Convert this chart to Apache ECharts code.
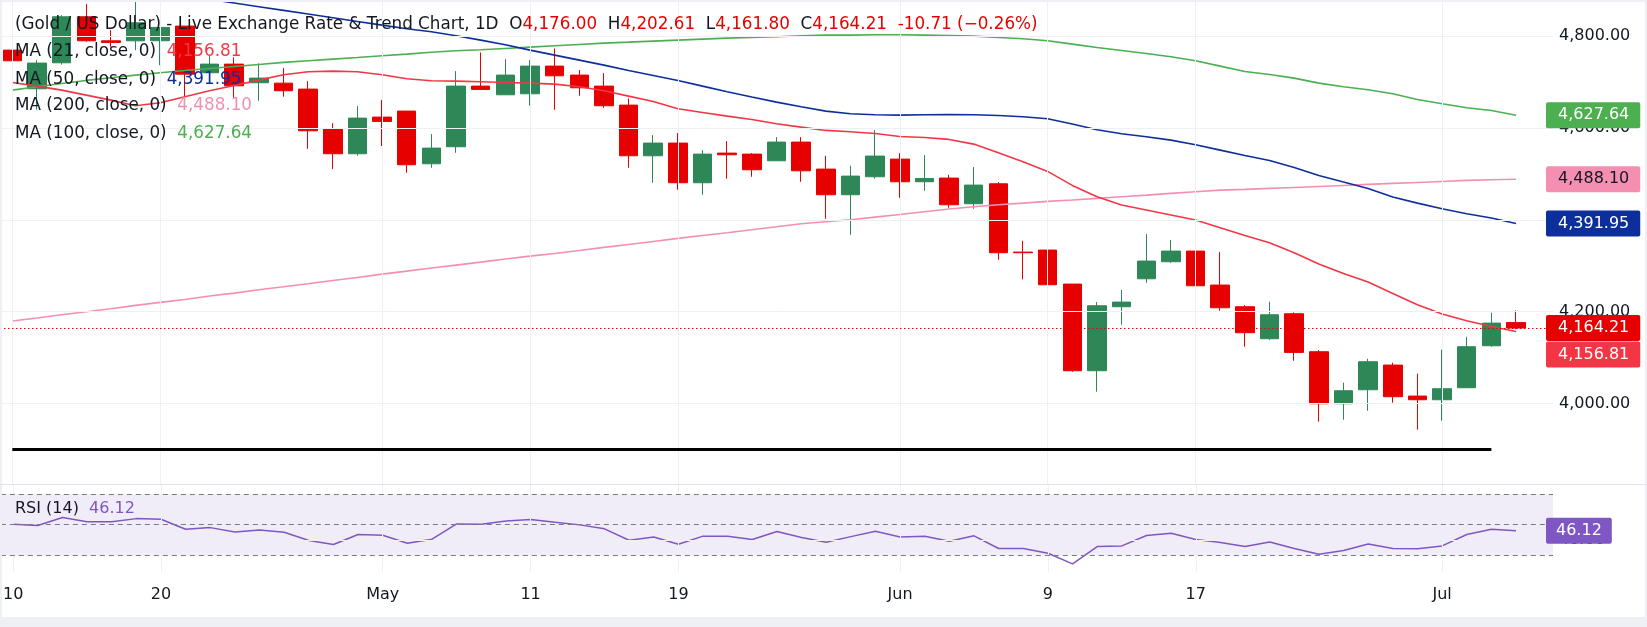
<!DOCTYPE html>
<html><head><meta charset="utf-8">
<script src="https://cdn.jsdelivr.net/npm/echarts@6/dist/echarts.min.js"></script>
<style>html,body{margin:0;padding:0;background:#fff;overflow:hidden}#c{width:1647px;height:627px}</style>
</head><body><div id="c"></div>
<script>
const dates = ['04-10','04-13','04-14','04-15','04-16','04-17','04-20','04-21','04-22','04-23','04-24','04-27','04-28','04-29','04-30',
 '05-01','05-04','05-05','05-06','05-07','05-08','05-11','05-12','05-13','05-14','05-15','05-18','05-19','05-20','05-21','05-22','05-25','05-26','05-27','05-28','05-29',
 '06-01','06-02','06-03','06-04','06-05','06-08','06-09','06-10','06-11','06-12','06-15','06-16','06-17','06-18','06-19','06-22','06-23','06-24','06-25','06-26','06-29','06-30',
 '07-01','07-02','07-03','07-06'];
const open  = [4769.5,4685.3,4741.9,4842.1,4789.8,4789.8,4790.0,4821.8,4720.2,4739.0,4698.4,4697.6,4684.6,4597.5,4543.8,4623.6,4636.7,4522.0,4559.0,4691.1,
 4672.2,4674.4,4734.7,4715.1,4691.1,4649.7,4539.4,4567.0,4480.6,4545.2,4543.0,4528.5,4569.2,4510.4,4454.5,4493.7,4532.1,4482.8,4490.8,4434.9,
 4478.4,4329.6,4334.0,4259.9,4071.2,4210.6,4271.5,4308.6,4331.8,4257.8,4210.6,4140.9,4195.3,4112.6,3999.3,4029.8,4083.5,4016.0,4008.0,4034.2,4125.6,4176.00];
const high  = [4794.9,4747.7,4845.7,4869.7,4813.0,4880.0,4819.0,4822.0,4758.6,4753.5,4740.5,4730.3,4702.0,4610.5,4647.6,4660.6,4637.0,4586.6,4723.8,4764.4,
 4749.9,4747.7,4773.1,4726.0,4719.4,4664.3,4584.4,4588.8,4551.7,4571.3,4545.2,4580.0,4580.0,4539.4,4517.6,4595.3,4545.2,4540.9,4498.0,4514.7,
 4482.1,4354.3,4364.5,4260.0,4220.7,4246.9,4368.8,4355.8,4381.9,4329.6,4214.2,4221.5,4198.2,4116.2,4045.1,4097.3,4088.6,4064.7,4116.9,4145.2,4197.5,4202.61];
const low   = [4731.0,4640.0,4738.0,4787.7,4776.8,4769.5,4736.8,4667.9,4718.0,4665.7,4659.2,4668.0,4554.6,4510.4,4539.4,4560.5,4502.4,4513.3,4545.9,4683.5,
 4671.8,4648.3,4639.6,4670.1,4643.9,4513.3,4480.6,4465.4,4454.5,4489.3,4493.7,4528.0,4482.8,4402.2,4367.4,4489.3,4447.9,4463.2,4426.2,4424.0,
 4312.9,4270.1,4238.9,4069.0,4025.5,4171.4,4262.8,4306.4,4221.5,4201.9,4123.5,4138.7,4093.0,3960.1,3964.5,3984.1,4001.5,3942.7,3962.3,4034.0,4123.5,4161.80];
const close = [4746.3,4741.2,4842.1,4789.8,4786.2,4829.0,4818.9,4717.2,4739.0,4691.8,4708.5,4681.0,4593.8,4543.8,4621.4,4614.2,4519.8,4556.1,4691.1,4683.9,
 4715.1,4734.7,4713.6,4687.5,4648.3,4539.4,4567.0,4480.6,4543.0,4541.6,4508.9,4569.2,4506.7,4454.5,4495.1,4538.7,4482.8,4490.0,4432.7,4475.5,
 4328.2,4328.2,4258.5,4071.2,4212.7,4220.7,4310.0,4331.8,4256.3,4208.4,4154.0,4193.1,4111.1,3999.3,4027.6,4090.8,4014.6,4008.0,4032.0,4123.5,4174.92,4164.21];
const ma21  = [4699.1,4691.1,4682.4,4671.5,4660.6,4648.3,4654.8,4667.9,4681.0,4692.6,4704.2,4715.8,4722.3,4723.8,4722.3,4715.8,4707.1,4702.7,4702.0,4700.6,
 4699.1,4697.6,4695.5,4689.7,4681.0,4669.3,4657.7,4641.8,4633.8,4625.8,4618.5,4609.1,4601.8,4594.6,4591.7,4588.0,4581.5,4579.3,4575.0,4564.8,
 4545.9,4526.3,4505.3,4474.8,4450.1,4432.0,4421.1,4410.2,4399.3,4382.6,4365.9,4349.9,4328.2,4303.5,4283.2,4264.3,4239.6,4214.9,4194.6,4180.1,4167.7,4156.81];
const ma50  = [4944.5,4936.4,4928.3,4920.4,4912.3,4904.2,4896.2,4888.2,4880.1,4872.1,4864.1,4856.1,4848.1,4840.1,4832.0,4824.0,4816.0,4809.4,4800.7,4791.3,
 4781.1,4769.5,4758.6,4747.7,4736.8,4725.2,4714.3,4703.5,4691.1,4678.8,4667.2,4656.3,4646.1,4636.7,4630.9,4628.7,4628.0,4628.7,4629.4,4628.7,
 4627.2,4624.3,4620.0,4608.4,4596.0,4587.3,4580.8,4573.5,4563.4,4551.7,4540.1,4529.2,4514.0,4496.6,4482.1,4468.3,4449.4,4436.3,4424.0,4413.1,4403.7,4391.95];
const ma100 = [4682.4,4689.7,4696.9,4703.5,4709.3,4715.1,4720.2,4725.2,4729.6,4733.9,4738.3,4742.7,4746.3,4749.9,4753.5,4757.2,4760.8,4765.0,4768.1,4770.2,
 4773.1,4776.0,4778.9,4781.9,4784.8,4786.9,4789.1,4791.3,4793.5,4795.6,4797.1,4798.5,4800.7,4802.2,4802.2,4802.9,4802.9,4802.2,4801.5,4800.0,
 4797.1,4794.2,4789.8,4782.6,4775.3,4768.8,4762.3,4755.0,4746.3,4734.7,4723.1,4716.5,4708.5,4697.6,4689.7,4683.1,4674.4,4662.1,4652.6,4643.9,4638.1,4627.64];
const ma200 = [4179.4,4185.9,4193.1,4199.7,4206.2,4213.5,4220.0,4226.5,4233.8,4240.3,4247.6,4254.1,4260.7,4267.9,4274.4,4281.7,4288.2,4294.8,4301.3,4307.8,
 4314.4,4320.9,4326.7,4333.2,4339.8,4346.3,4352.8,4359.4,4365.9,4371.7,4378.3,4384.8,4391.3,4395.7,4400.0,4405.8,4411.6,4417.4,4423.3,4428.3,
 4432.7,4436.3,4440.0,4442.9,4446.5,4450.1,4453.7,4457.4,4461.0,4464.6,4466.1,4468.3,4470.4,4472.6,4474.8,4477.0,4479.2,4481.3,4483.5,4485.7,4487.1,4488.10];
const rsi14 = [50.3,49.5,54.7,51.9,51.9,54.0,53.6,47.0,48.1,45.3,46.6,45.1,39.6,37.0,43.6,43.1,37.9,40.5,50.5,50.3,
 52.5,53.4,51.6,49.9,47.3,39.8,42.0,37.2,42.5,42.5,40.3,45.5,41.6,38.5,42.2,45.7,42.0,42.5,39.2,42.7,
 34.4,34.4,31.3,24.3,35.7,36.1,42.9,44.4,40.3,38.3,35.7,38.7,34.4,30.7,33.1,37.4,34.4,34.2,36.1,43.6,47.0,46.12];
const tickDates = ['04-10','04-20','05-01','05-11','05-19','06-01','06-09','06-17','07-01'];
const tickTexts = ['10','20','May','11','19','Jun','9','17','Jul'];
const priceTicks = [4000,4200,4400,4600,4800];
const rsiTicks = [40];
const rsiLevels = [70,50,30];
const supportLevel = 3901;
const supportEnd = '07-03';

const F = 'DejaVu Sans';
const INK = '#131722';
const UP = '#2E8757', DOWN = '#E60000';
const cats = dates.concat(['']);
const n = dates.length;
const fmt = v => Number(v).toLocaleString('en-US',{minimumFractionDigits:2,maximumFractionDigits:2});
const chg = close[n-1]-close[n-2];
const pct = chg/close[n-2]*100;
const chgText = (chg<0?'-':'+')+Math.abs(chg).toFixed(2)+' ('+(pct<0?'\u2212':'+')+Math.abs(pct).toFixed(2)+'%)';

const mas = [
  {label:'MA (21, close, 0)', data:ma21, color:'#F23645', text:'#fff', offset:[0,23]},
  {label:'MA (50, close, 0)', data:ma50, color:'#0D2F9B', text:'#fff', offset:[0,0]},
  {label:'MA (200, close, 0)', data:ma200, color:'#F48FB1', text:INK, offset:[0,0]},
  {label:'MA (100, close, 0)', data:ma100, color:'#4CAF50', text:'#fff', offset:[0,0]}
];
const tag = (bg, fg, extra) => Object.assign({show:true, position:'end', distance:-7, color:fg, backgroundColor:bg, opacity:1,
  padding:[4,11,3,12], fontSize:16, lineHeight:19, fontFamily:F, borderRadius:2, formatter:p=>fmt(p.value)}, extra||{});
const HIDDEN = {color:'rgba(0,0,0,0)', width:0};

const rs = (c, s) => ({color:c, fontSize:s||16.8, fontFamily:F, fontWeight:'normal', lineHeight:20});
const titles = [{
  left:15, top:14.5, padding:0,
  text:'{d|(Gold / US Dollar) - Live Exchange Rate & Trend Chart, 1D  O}{r|'+fmt(open[n-1])+'}{d|  H}{r|'+fmt(high[n-1])+
       '}{d|  L}{r|'+fmt(low[n-1])+'}{d|  C}{r|'+fmt(close[n-1])+'}{r|  '+chgText+'}',
  textStyle:{fontWeight:'normal', rich:{d:rs(INK), r:rs(DOWN)}}
}];
const legendTops = [42, 69.3, 96, 123.8];
mas.forEach((m,k)=>titles.push({left:15, top:legendTops[k], padding:0,
  text:'{d|'+m.label+'  }{v|'+fmt(m.data[n-1])+'}', textStyle:{fontWeight:'normal', rich:{d:rs(INK), v:rs(m.color)}}}));
titles.push({left:15, top:499, padding:0, text:'{d|RSI (14)  }{v|'+rsi14[n-1].toFixed(2)+'}',
  textStyle:{fontWeight:'normal', rich:{d:rs(INK, 16), v:rs('#7E57C2', 16)}}});

const GRID = '#EEF0F3';
const gridLines = (xi) => ({
  type:'line', xAxisIndex:xi, yAxisIndex:xi, data:[], z:1, silent:true,
  markLine:{symbol:['none','none'], silent:true, animation:false, label:{show:false},
    lineStyle:{color:GRID, width:1, type:'solid'},
    data: (xi===0 ? priceTicks : rsiTicks).map(v=>({yAxis:v})).concat(tickDates.map(d=>({xAxis:d})))}
});

const series = [
  gridLines(0), gridLines(1),
  {type:'line', name:'support', xAxisIndex:0, yAxisIndex:0, data:[], z:3, silent:true,
   markLine:{symbol:['none','none'], silent:true, animation:false, label:{show:false},
     lineStyle:{color:'#000', width:3, type:'solid'},
     data:[[{coord:[dates[0], supportLevel]},{coord:[supportEnd, supportLevel]}]]}},
  {type:'candlestick', name:'XAUUSD', xAxisIndex:0, yAxisIndex:0, barWidth:19, clip:true, z:2,
   data: dates.map((d,i)=>[open[i], close[i], low[i], high[i]]),
   itemStyle:{color:UP, color0:DOWN, borderColor:UP, borderColor0:DOWN, borderWidth:1},
   markLine:{symbol:['none','none'], silent:true, animation:false, z:10,
     data:[{yAxis:close[n-1], lineStyle:{color:DOWN, width:1, type:[1.5,2.5]}, label:tag(DOWN,'#fff')}]}}
];
mas.slice().reverse().forEach((m,k)=>series.push({
  type:'line', name:m.label, xAxisIndex:0, yAxisIndex:0, data:m.data, symbol:'none', z:4, clip:true,
  lineStyle:{color:m.color, width:1.6}, silent:true,
  markLine:{symbol:['none','none'], silent:true, animation:false, z:5+k,
    data:[{yAxis:m.data[n-1], lineStyle:HIDDEN, label:tag(m.color, m.text, {offset:m.offset})}]}
}));
series.push({
  type:'line', name:'RSI', xAxisIndex:1, yAxisIndex:1, data:rsi14, symbol:'none', z:4,
  lineStyle:{color:'#7E57C2', width:1.5}, silent:true,
  markArea:{silent:true, itemStyle:{color:'rgba(126,87,194,0.11)'}, data:[[{yAxis:rsiLevels[2]},{yAxis:rsiLevels[0]}]]},
  markLine:{symbol:['none','none'], silent:true, animation:false, label:{show:false},
    data: rsiLevels.map(v=>({yAxis:v, lineStyle:{color:'#787B86', width:1, type:[5,4]}}))
      .concat([{yAxis:rsi14[n-1], lineStyle:HIDDEN, label:tag('#7E57C2','#fff',{formatter:p=>Number(p.value).toFixed(2), padding:[4,10,3,10]})}])}
});

const axisLbl = {color:INK, fontSize:16, fontFamily:F};
const option = {
  animation:false, backgroundColor:'#fff',
  title: titles,
  grid:[{left:0, width:1553, top:2, height:482}, {left:0, width:1553, top:484, height:88}],
  xAxis:[
    {type:'category', gridIndex:0, data:cats, boundaryGap:true, axisLine:{show:false}, axisTick:{show:false}, axisLabel:{show:false}, splitLine:{show:false}},
    {type:'category', gridIndex:1, data:cats, boundaryGap:true, axisLine:{show:false}, axisTick:{show:false}, splitLine:{show:false},
     axisLabel:Object.assign({interval:(i,v)=>tickDates.indexOf(v)>=0, formatter:v=>tickTexts[tickDates.indexOf(v)], margin:15}, axisLbl)}
  ],
  yAxis:[
    {type:'value', gridIndex:0, position:'right', min:3824.5, max:4874.3, splitLine:{show:false}, axisLine:{show:false}, axisTick:{show:false},
     axisLabel:Object.assign({customValues:priceTicks, formatter:v=>fmt(v), margin:6}, axisLbl)},
    {type:'value', gridIndex:1, position:'right', min:19, max:76.7, splitLine:{show:false}, axisLine:{show:false}, axisTick:{show:false},
     axisLabel:Object.assign({customValues:rsiTicks, formatter:v=>fmt(v), margin:6}, axisLbl)}
  ],
  series: series,
  graphic:[
    {type:'rect', z:100, silent:true, shape:{x:0,y:0,width:1647,height:2}, style:{fill:'#EEF0F5'}},
    {type:'rect', z:100, silent:true, shape:{x:0,y:0,width:2,height:627}, style:{fill:'#EEF0F5'}},
    {type:'rect', z:100, silent:true, shape:{x:1645,y:0,width:2,height:627}, style:{fill:'#EEF0F5'}},
    {type:'rect', z:100, silent:true, shape:{x:0,y:617,width:1647,height:10}, style:{fill:'#EEF0F5'}},
    {type:'rect', z:100, silent:true, shape:{x:0,y:484,width:1647,height:1}, style:{fill:'#E0E3EB'}}
  ]
};
const chart = echarts.init(document.getElementById('c'), null, {renderer:'canvas'});
chart.setOption(option);
</script></body></html>
